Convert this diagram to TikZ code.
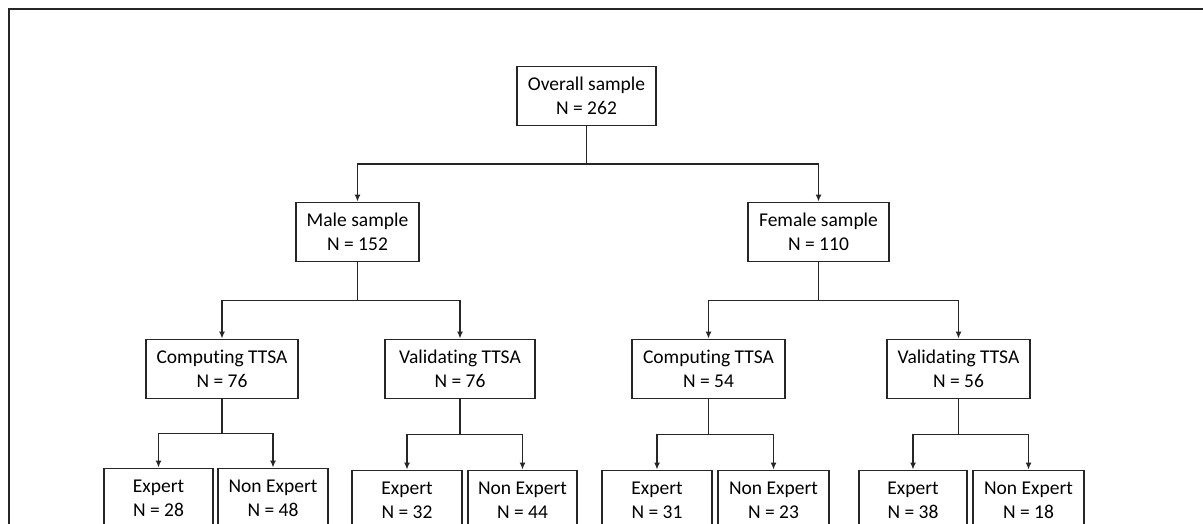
\documentclass[tikz,border=0pt]{standalone}
\usepackage{fontspec}
\setmainfont[Ligatures=NoCommon]{Carlito}
\usetikzlibrary{arrows.meta,calc}

\begin{document}
\begin{tikzpicture}[x=1pt,y=-1pt,
            every node/.style={draw=black!85, line width=1.8pt, rectangle, align=center, inner sep=0pt,
              minimum height=59pt, font=\fontsize{19.5}{24}\selectfont, text=black},
            conn/.style={draw=black!85, line width=1.8pt, -{Latex[length=7pt,width=6pt]}}
        ]
        \useasboundingbox (0,0) rectangle (1203,524);
        \clip (0,0) rectangle (1203,524);
        \draw[black!85, line width=2pt] (9,524) -- (9,9) -- (1203,9);

        \node[minimum width=139pt] (root) at (586.5,96) {Overall sample\\N = 262};
        % First level
        \node[minimum width=123pt] (n21) at (357.5,232) {Male sample\\N = 152};
        \node[minimum width=141pt] (n22) at (818.5,232) {Female sample\\N = 110};
        % Second level
        \node[minimum width=152pt] (n31) at (222,369) {Computing TTSA\\N = 76};
        \node[minimum width=150pt] (n32) at (460,369) {Validating TTSA\\N = 76};
        \node[minimum width=153pt] (n33) at (708.5,369) {Computing TTSA\\N = 54};
        \node[minimum width=143pt] (n34) at (958.5,369) {Validating TTSA\\N = 56};
        % Third level
        \node[minimum width=109pt] (n41) at (158.5,498) {Expert\\N = 28};
        \node[minimum width=110pt] (n42) at (273,498) {Non Expert\\N = 48};
        \node[minimum width=110pt] (n43) at (407,500) {Expert\\N = 32};
        \node[minimum width=109pt] (n44) at (522.5,500) {Non Expert\\N = 44};
        \node[minimum width=110pt] (n45) at (657,500) {Expert\\N = 31};
        \node[minimum width=111pt] (n46) at (773.5,500) {Non Expert\\N = 23};
        \node[minimum width=108pt] (n47) at (913,500) {Expert\\N = 38};
        \node[minimum width=111pt] (n48) at (1028.5,500) {Non Expert\\N = 18};

        % Edges
        \draw[conn] (root.south) |- ($(root.south)!.5!(n21.north)$) -| (n21.north);
        \draw[conn] (root.south) |- ($(root.south)!.5!(n22.north)$) -| (n22.north);
        \draw[conn] (n21.south) |- ($(n21.south)!.5!(n31.north)$) -| (n31.north);
        \draw[conn] (n21.south) |- ($(n21.south)!.5!(n32.north)$) -| (n32.north);
        \draw[conn] (n22.south) |- ($(n22.south)!.5!(n33.north)$) -| (n33.north);
        \draw[conn] (n22.south) |- ($(n22.south)!.5!(n34.north)$) -| (n34.north);
        \draw[conn] (n31.south) |- ($(n31.south)!.5!(n41.north)$) -| (n41.north);
        \draw[conn] (n31.south) |- ($(n31.south)!.5!(n42.north)$) -| (n42.north);
        \draw[conn] (n32.south) |- ($(n32.south)!.5!(n43.north)$) -| (n43.north);
        \draw[conn] (n32.south) |- ($(n32.south)!.5!(n44.north)$) -| (n44.north);
        \draw[conn] (n33.south) |- ($(n33.south)!.5!(n45.north)$) -| (n45.north);
        \draw[conn] (n33.south) |- ($(n33.south)!.5!(n46.north)$) -| (n46.north);
        \draw[conn] (n34.south) |- ($(n34.south)!.5!(n47.north)$) -| (n47.north);
        \draw[conn] (n34.south) |- ($(n34.south)!.5!(n48.north)$) -| (n48.north);

        \end{tikzpicture}
\end{document}
